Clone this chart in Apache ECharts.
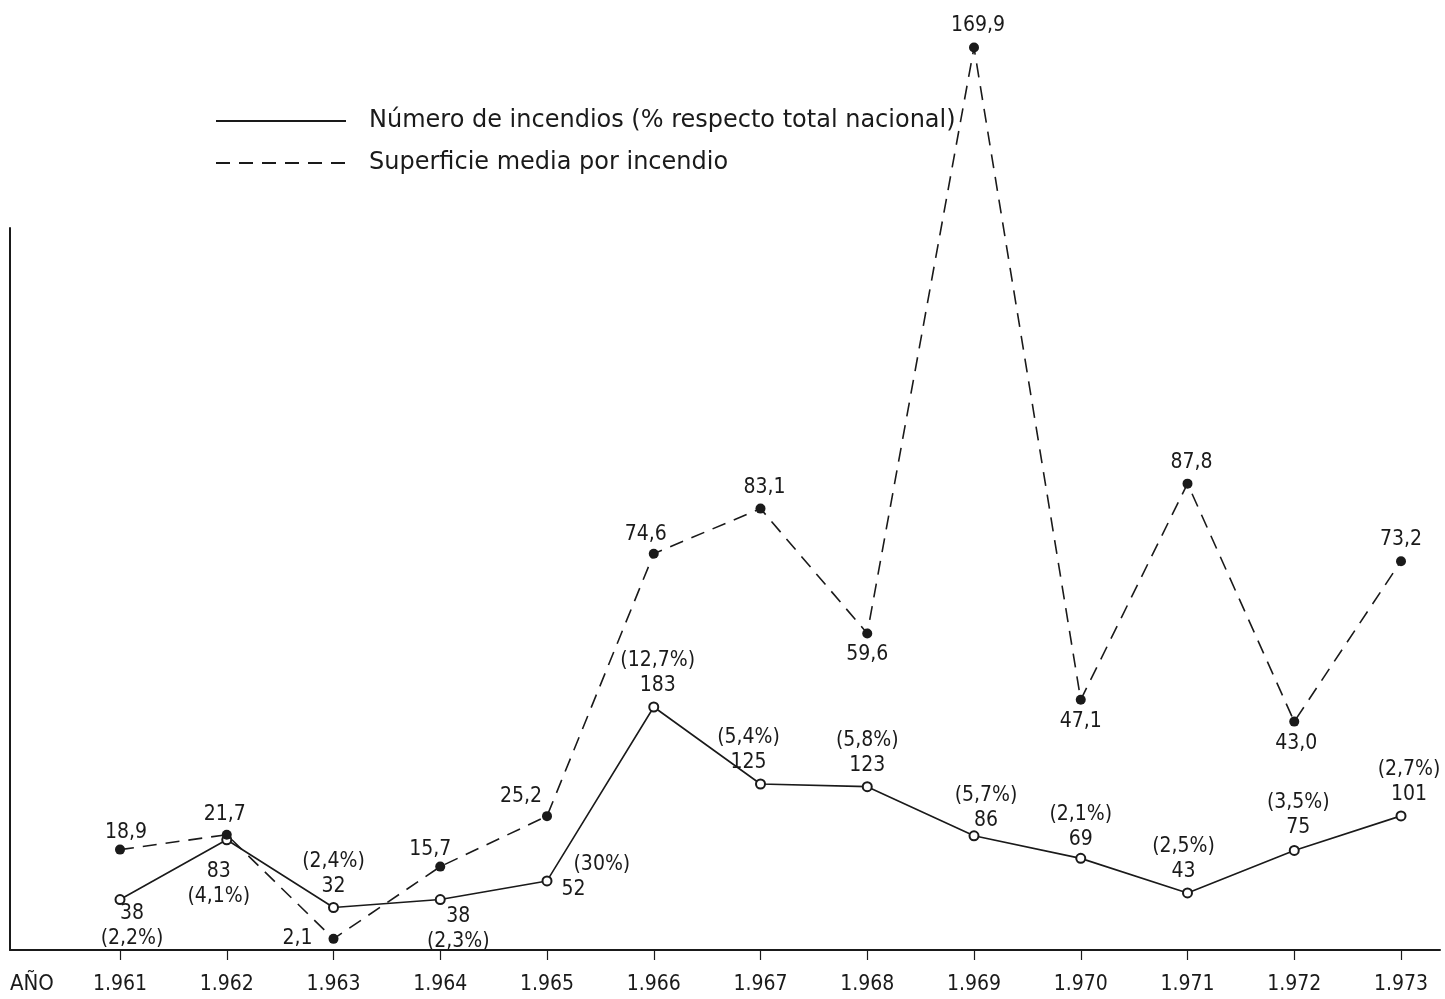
<!DOCTYPE html>
<html>
<head>
<meta charset="utf-8">
<script src="https://cdn.jsdelivr.net/npm/echarts@6/dist/echarts.min.js"></script>
<style>
  html, body { margin: 0; padding: 0; background: #fff; }
  #chart { width: 1445px; height: 999px; }
</style>
</head>
<body>
<div id="chart"></div>
<script>
const years = ["1.961", "1.962", "1.963", "1.964", "1.965", "1.966", "1.967", "1.968", "1.969", "1.970", "1.971", "1.972", "1.973"];
// número de incendios y su % respecto al total nacional
const fires = [38, 83, 32, 38, 52, 183, 125, 123, 86, 69, 43, 75, 101];
const firePct = ["2,2", "4,1", "2,4", "2,3", "30", "12,7", "5,4", "5,8", "5,7", "2,1", "2,5", "3,5", "2,7"];
// superficie media por incendio
const area = [18.9, 21.7, 2.1, 15.7, 25.2, 74.6, 83.1, 59.6, 169.9, 47.1, 87.8, 43.0, 73.2];

const ink = "#1a1a1a";
const font = "'DejaVu Sans Condensed', 'Liberation Sans Narrow', 'Roboto', sans-serif";
const legendFont = "'DejaVu Sans', 'Noto Sans', sans-serif";

// where each label sits around its point
const fireLabelPlace = [
  { position: "bottom", offset: [12, -9], below: true },
  { position: "bottom", offset: [-8, 9], below: true },
  { position: "top", offset: [0, 2] },
  { position: "bottom", offset: [18, -6], below: true },
  { position: "right", offset: [4, -4], side: true },
  { position: "top", offset: [4, 2] },
  { position: "top", offset: [-12, 2] },
  { position: "top", offset: [0, 2] },
  { position: "top", offset: [12, 8] },
  { position: "top", offset: [0, 4] },
  { position: "top", offset: [-4, 2] },
  { position: "top", offset: [4, 0] },
  { position: "top", offset: [8, 2] }
];
const areaLabelPlace = [
  { position: "top", offset: [6, 4] },
  { position: "top", offset: [-2, 1] },
  { position: "left", offset: [-10, 0] },
  { position: "top", offset: [-10, 4] },
  { position: "top", offset: [-26, 2] },
  { position: "top", offset: [-8, 2] },
  { position: "top", offset: [4, 0] },
  { position: "bottom", offset: [0, 0] },
  { position: "top", offset: [4, 0] },
  { position: "bottom", offset: [0, 0] },
  { position: "top", offset: [4, 0] },
  { position: "bottom", offset: [2, 0] },
  { position: "top", offset: [0, 0] }
];

const fireData = fires.map((v, i) => {
  const p = fireLabelPlace[i];
  let text;
  if (p.below) text = v + "\n(" + firePct[i] + "%)";
  else if (p.side) text = "  (" + firePct[i] + "%)\n" + v;
  else text = "(" + firePct[i] + "%)\n" + v;
  return {
    value: v,
    label: { position: p.position, offset: p.offset, formatter: text, align: p.side ? "left" : "center" }
  };
});
const areaData = area.map((v, i) => {
  const p = areaLabelPlace[i];
  return {
    value: v,
    label: { position: p.position, offset: p.offset, formatter: v.toFixed(1).replace(".", ",") }
  };
});

const chart = echarts.init(document.getElementById("chart"));
chart.setOption({
  animation: false,
  backgroundColor: "#fff",
  textStyle: { fontFamily: font, color: ink },
  legend: {
    orient: "vertical",
    left: 210,
    top: 104,
    itemWidth: 130,
    itemHeight: 20,
    itemGap: 18,
    itemStyle: { opacity: 0 },
    textStyle: { fontSize: 24, color: ink, fontFamily: legendFont, padding: [0, 0, 0, 18] },
    data: ["Número de incendios (% respecto total nacional)", "Superficie media por incendio"]
  },
  graphic: [{
    type: "text",
    left: 10,
    top: 973,
    style: { text: "AÑO", fontSize: 22, fill: ink, fontFamily: font }
  }],
  grid: [
    { left: 120, right: 44, top: 47, bottom: 49 },
    { left: 10, right: 5, top: 228, bottom: 49 }
  ],
  xAxis: [{
    type: "category",
    gridIndex: 0,
    data: years,
    boundaryGap: false,
    axisLine: { show: false },
    axisTick: { show: true, length: 10, lineStyle: { color: ink, width: 1.2 } },
    axisLabel: { fontSize: 21, color: ink, margin: 24, fontFamily: font }
  }, {
    type: "category",
    gridIndex: 1,
    data: [],
    axisLine: { show: true, onZero: false, lineStyle: { color: ink, width: 2 } },
    axisTick: { show: false },
    axisLabel: { show: false }
  }],
  yAxis: [{
    type: "value",
    gridIndex: 0,
    min: 0,
    max: 170,
    show: false
  }, {
    type: "value",
    gridIndex: 0,
    min: 0,
    max: 680,
    show: false
  }, {
    type: "value",
    gridIndex: 1,
    min: 0,
    max: 1,
    axisLine: { show: true, lineStyle: { color: ink, width: 2 } },
    axisTick: { show: false },
    axisLabel: { show: false },
    splitLine: { show: false }
  }],
  series: [{
    name: "Número de incendios (% respecto total nacional)",
    type: "line",
    xAxisIndex: 0,
    yAxisIndex: 1,
    data: fireData,
    symbol: "emptyCircle",
    symbolSize: 9,
    z: 3,
    lineStyle: { color: ink, width: 1.6 },
    itemStyle: { color: ink, borderWidth: 1.4 },
    label: { show: true, fontSize: 21, color: ink, lineHeight: 25, fontFamily: font }
  }, {
    name: "Superficie media por incendio",
    type: "line",
    xAxisIndex: 0,
    yAxisIndex: 0,
    data: areaData,
    symbol: "circle",
    symbolSize: 10,
    lineStyle: { color: ink, width: 1.6, type: [14, 9] },
    itemStyle: { color: ink },
    label: { show: true, fontSize: 21, color: ink, fontFamily: font, distance: 6 }
  }]
});
</script>
</body>
</html>
